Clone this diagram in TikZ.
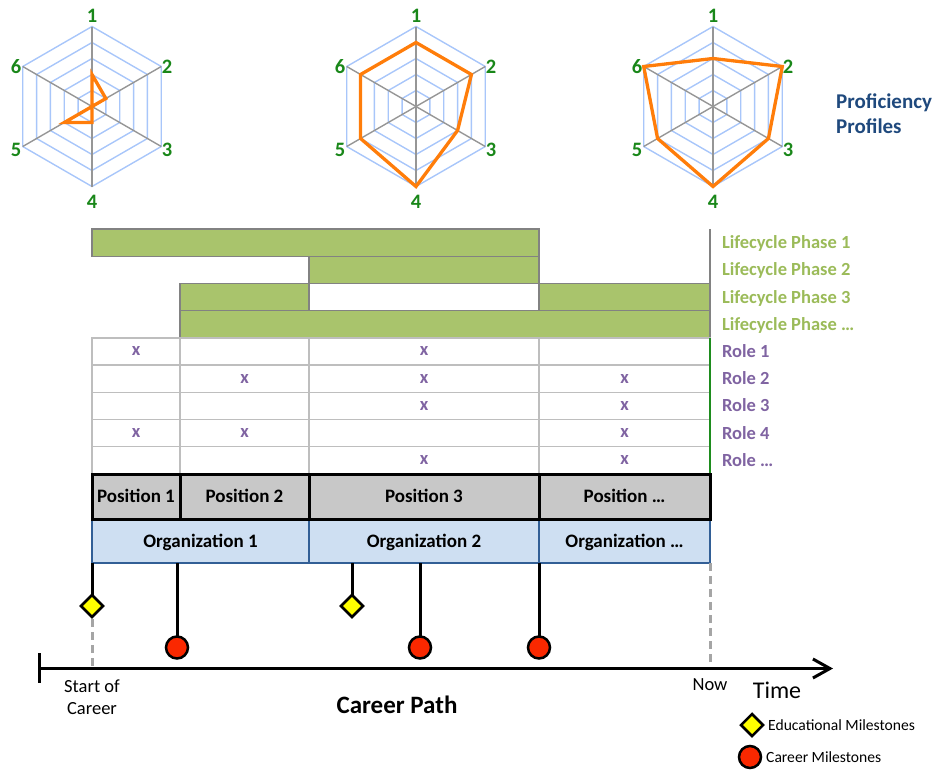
\documentclass[tikz,border=0pt]{standalone}
\usepackage{fontspec}
\setmainfont{Carlito}
\usetikzlibrary{shapes.geometric,arrows.meta}
\definecolor{ringblue}{RGB}{168,198,250}
\definecolor{spokegray}{RGB}{150,150,150}
\definecolor{profor}{RGB}{255,125,10}
\definecolor{axgreen}{RGB}{25,135,25}
\definecolor{lcfill}{RGB}{169,196,108}
\definecolor{lctext}{RGB}{155,187,89}
\definecolor{rolepurple}{RGB}{128,100,162}
\definecolor{posfill}{RGB}{200,200,200}
\definecolor{orgfill}{RGB}{206,223,242}
\definecolor{orgline}{RGB}{50,95,150}
\definecolor{profblue}{RGB}{31,73,125}
\definecolor{barline}{RGB}{130,130,130}
\definecolor{cellline}{RGB}{190,190,190}
\definecolor{dashgray}{RGB}{165,165,165}
\definecolor{msyellow}{RGB}{255,255,0}
\definecolor{msred}{RGB}{250,40,0}
\definecolor{rowgreen}{RGB}{30,140,30}
\newcommand\myfont[2]{\fontsize{#1}{#2}\selectfont}
\tikzset{
  lbl/.style={inner sep=0pt, outer sep=0pt, text height=12pt, text depth=0pt},
  ringline/.style={draw=ringblue, line width=1.4pt},
  spoke/.style={draw=spokegray, line width=1.4pt},
  profline/.style={draw=profor, line width=3.3pt},
  axlabel/.style={inner sep=0pt, outer sep=0pt, text height=13pt, text depth=0pt, text=axgreen, font=\bfseries\myfont{20.5}{24}},
  lcbar/.style={draw=barline, line width=1.4pt, fill=lcfill, minimum height=27.2, inner sep=0pt, outer sep=0pt, anchor=north west},
  lcgap/.style={lcbar, fill=white},
  cell/.style={draw=cellline, line width=1.4pt, minimum height=27.2, inner sep=0pt, outer sep=0pt, anchor=north west},
  xmark/.style={inner sep=0pt, text=rolepurple, font=\bfseries\myfont{18.5}{22}},
  lclabel/.style={lbl, anchor=west, text=lctext, font=\bfseries\myfont{18.5}{22}},
  rolelabel/.style={lbl, anchor=west, text=rolepurple, font=\bfseries\myfont{18.5}{22}},
  posbox/.style={draw=black, line width=3pt, fill=posfill, minimum height=45, inner sep=0pt, outer sep=0pt, text height=12pt, text depth=0pt, anchor=north west, font=\bfseries\myfont{19}{22}},
  orgbox/.style={draw=orgline, line width=2.5pt, fill=orgfill, minimum height=44, inner sep=0pt, outer sep=0pt, text height=12pt, text depth=0pt, anchor=north west, font=\bfseries\myfont{19}{22}},
  edu/.style={diamond, draw=black, line width=2.5pt, fill=msyellow, minimum size=22, inner sep=0pt, outer sep=0pt},
  car/.style={circle, draw=black, line width=2.5pt, fill=msred, minimum size=22, inner sep=0pt, outer sep=0pt},
  stem/.style={draw=black, line width=3pt},
  axisline/.style={draw=black, line width=3pt},
  dashline/.style={draw=dashgray, line width=3pt, dash pattern=on 8pt off 5pt},
  plaintext/.style={inner sep=0pt, outer sep=0pt, font=\myfont{18.5}{21.6}},
}
\newcommand\myradar[4]{%
  \foreach \r in {16,32,48,64,80}{
    \draw[ringline] ({#2},{#3-\r}) -- ({#2+0.8660*\r},{#3-0.5*\r}) -- ({#2+0.8660*\r},{#3+0.5*\r}) -- ({#2},{#3+\r}) -- ({#2-0.8660*\r},{#3+0.5*\r}) -- ({#2-0.8660*\r},{#3-0.5*\r}) -- cycle;
  }
  \foreach \a in {90,30,-30}{
    \draw[spoke] ({#2+80*cos(\a)},{#3-80*sin(\a)}) -- ({#2-80*cos(\a)},{#3+80*sin(\a)});
  }
  \foreach \v [count=\k] in {#4}{
    \coordinate (#1p\k) at ({#2+16*\v*cos(90-60*(\k-1))},{#3-16*\v*sin(90-60*(\k-1))});
  }
  \draw[profline] (#1p1)--(#1p2)--(#1p3)--(#1p4)--(#1p5)--(#1p6)--cycle;
  \foreach \k/\dx/\dy in {1/0/-91,2/75/-40,3/75/43,4/0/95,5/-76/43,6/-76/-40}{
    \node[axlabel] (#1l\k) at ({#2+\dx},{#3+\dy}) {\k};
  }
}
\begin{document}
\begin{tikzpicture}[x=1pt,y=-1pt]
\useasboundingbox (0,0) rectangle (940,769);
% radar charts
\myradar{ra}{92}{106.5}{2,1,0,1,2,0}
\myradar{rb}{416}{106.5}{4,4,3,5,4,4}
\myradar{rc}{713}{106.5}{3,5,4,5,4,5}
\node[anchor=west, align=left, inner sep=0pt, text=profblue, font=\bfseries\myfont{21}{25}] (prof) at (836,114) {Proficiency\\Profiles};
% lifecycle bars
\node[lcbar, minimum width=447] (lc1) at (92,229) {};
\node[lcbar, minimum width=230] (lc2) at (309,256.2) {};
\node[lcbar, minimum width=129] (lc3a) at (180,283.4) {};
\node[lcgap, minimum width=230] (lc3b) at (309,283.4) {};
\node[lcbar, minimum width=171] (lc3c) at (539,283.4) {};
\node[lcbar, minimum width=530] (lc4) at (180,310.6) {};
\coordinate (rtop) at (710,229);
\draw[draw=barline, line width=1.4pt] (rtop) -- (lc3c.north east);
% role cells
\foreach \i in {0,...,4}{
  \foreach \c/\x/\w in {1/92/88,2/180/129,3/309/230,4/539/171}{
    \node[cell, minimum width=\w] (cell\i\c) at (\x,{337.8+27.2*\i}) {};
  }
}
\draw[draw=rowgreen, line width=1.2pt] (cell04.north east) -- (cell44.south east);
\foreach \i/\c in {0/1,0/3,1/2,1/3,1/4,2/3,2/4,3/1,3/2,3/4,4/3,4/4}{
  \node[xmark] (x\i\c) at (cell\i\c.center) {x};
}
% row labels
\node[lclabel] (lcl1) at (722,242.6) {Lifecycle Phase 1};
\node[lclabel] (lcl2) at (722,269.8) {Lifecycle Phase 2};
\node[lclabel] (lcl3) at (722,297.0) {Lifecycle Phase 3};
\node[lclabel] (lcl4) at (722,324.2) {Lifecycle Phase …};
\node[rolelabel] (rl1) at (722,351.4) {Role 1};
\node[rolelabel] (rl2) at (722,378.6) {Role 2};
\node[rolelabel] (rl3) at (722,405.8) {Role 3};
\node[rolelabel] (rl4) at (722,433.0) {Role 4};
\node[rolelabel] (rl5) at (722,460.2) {Role …};
% organizations and positions
\node[orgbox, minimum width=217] (org1) at (92,519) {Organization 1};
\node[orgbox, minimum width=230] (org2) at (309,519) {Organization 2};
\node[orgbox, minimum width=171] (org3) at (539,519) {Organization …};
\node[posbox, minimum width=88] (pos1) at (92,474) {Position 1};
\node[posbox, minimum width=129] (pos2) at (180,474) {Position 2};
\node[posbox, minimum width=230] (pos3) at (309,474) {Position 3};
\node[posbox, minimum width=171] (pos4) at (539,474) {Position …};
% time axis
\coordinate (axL) at (39,668.5);
\coordinate (axR) at (833,668.5);
\coordinate (tkT) at (39,653);
\coordinate (tkB) at (39,683);
\coordinate (ed1c) at (92,606);
\coordinate (ed2c) at (352,606);
\coordinate (cm1c) at (177,647.5);
\coordinate (cm2c) at (420,647.5);
\coordinate (cm3c) at (539,647.5);
\draw[dashline] (ed1c) -- (ed1c |- axL);
\draw[dashline] (org3.south east) -- (org3.south east |- axL);
\draw[axisline, -{Straight Barb[length=17pt, width=19pt]}] (axL) -- (axR);
\draw[axisline] (tkT) -- (tkB);
% milestone stems
\draw[stem] (org1.south west) -- (ed1c);
\draw[stem] (cm1c |- org1.south) -- (cm1c);
\draw[stem] (ed2c |- org2.south) -- (ed2c);
\draw[stem] (cm2c |- org2.south) -- (cm2c);
\draw[stem] (org3.south west) -- (cm3c);
\node[edu] (ed1) at (ed1c) {};
\node[edu] (ed2) at (ed2c) {};
\node[car] (cm1) at (cm1c) {};
\node[car] (cm2) at (cm2c) {};
\node[car] (cm3) at (cm3c) {};
% axis texts
\node[plaintext, align=center] (start) at (92,697.5) {Start of\\Career};
\node[inner sep=0pt, text height=16pt, text depth=0pt, font=\bfseries\myfont{25}{30}] (cpath) at (397,705) {Career Path};
\node[plaintext, text height=12pt, text depth=0pt] (now) at (710,684) {Now};
\node[inner sep=0pt, text height=15.5pt, text depth=0pt, font=\myfont{24}{28}] (time) at (777,691) {Time};
% legend
\node[edu] (legd) at (752,725) {};
\node[anchor=west, inner sep=0pt, text height=10pt, text depth=0pt, font=\myfont{15.6}{18}] (legdt) at (768,725) {Educational Milestones};
\node[car] (legc) at (750,757) {};
\node[anchor=west, inner sep=0pt, text height=10pt, text depth=0pt, font=\myfont{15.6}{18}] (legct) at (766,757) {Career Milestones};
\end{tikzpicture}
\end{document}
